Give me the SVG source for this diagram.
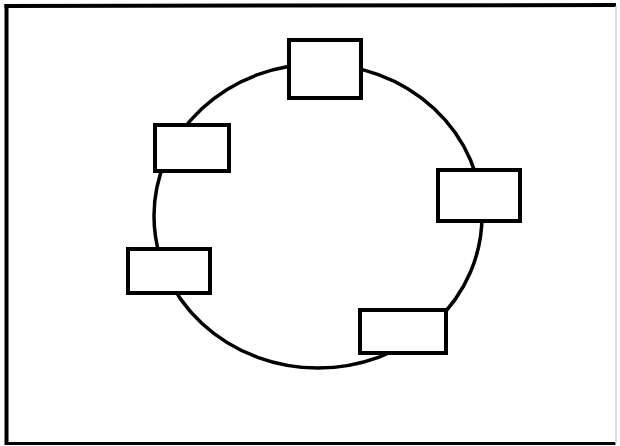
<svg xmlns="http://www.w3.org/2000/svg" width="620" height="446" viewBox="0 0 620 446">
  <style>
    .frame { stroke: #000; fill: none; stroke-linecap: square; }
    .ring { fill: none; stroke: #000; stroke-width: 3.5; }
    .node { fill: #fff; stroke: #000; stroke-width: 4; }
  </style>
  <rect x="0" y="0" width="620" height="446" fill="#fff"/>
  <g id="frame">
    <line class="frame" x1="6.5" y1="6" x2="614" y2="5" stroke-width="4"/>
    <line class="frame" x1="6.5" y1="6" x2="6.5" y2="443" stroke-width="4"/>
    <line class="frame" x1="6.5" y1="443.5" x2="614" y2="443.5" stroke-width="3"/>
    <line x1="616" y1="6" x2="616" y2="443" stroke="#d0d0d0" stroke-width="1.5"/>
  </g>
  <g id="connectors">
    <ellipse class="ring" cx="318" cy="216" rx="164" ry="152"/>
  </g>
  <g id="node-top">
    <rect class="node" x="289" y="40" width="72" height="58"/>
  </g>
  <g id="node-left-upper">
    <rect class="node" x="155" y="125" width="74" height="46"/>
  </g>
  <g id="node-right">
    <rect class="node" x="438" y="170" width="82" height="51"/>
  </g>
  <g id="node-left-lower">
    <rect class="node" x="128" y="249" width="82" height="44"/>
  </g>
  <g id="node-bottom-right">
    <rect class="node" x="360" y="310" width="86" height="43"/>
  </g>
</svg>
